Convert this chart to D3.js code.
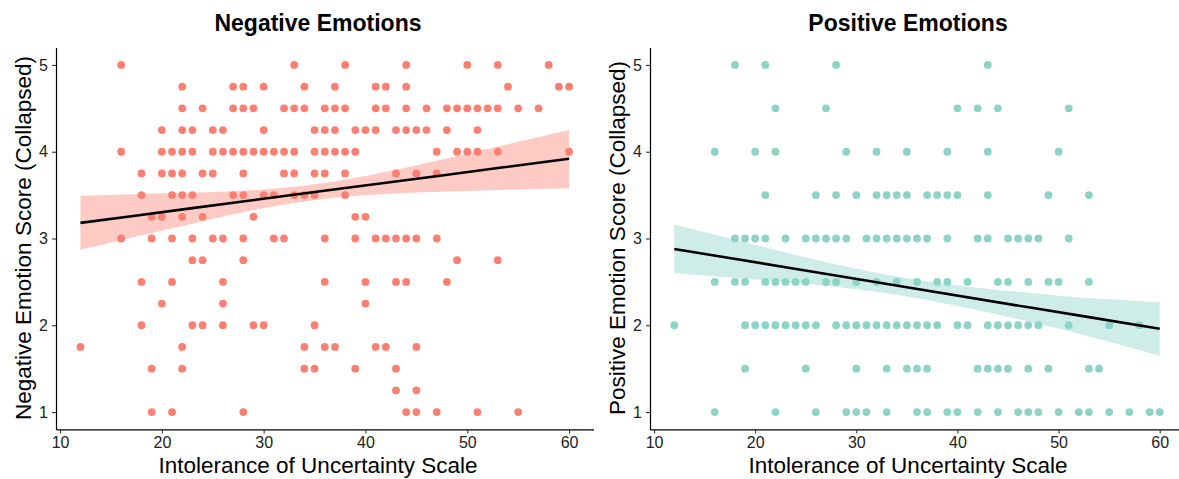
<!DOCTYPE html>
<html>
<head>
<meta charset="utf-8">
<script src="https://cdn.jsdelivr.net/npm/d3@7"></script>
<style>
  html, body { margin: 0; padding: 0; background: #fff; }
  svg { display: block; font-family: "Liberation Sans", Arial, sans-serif; }
</style>
</head>
<body>
<svg id="chart" width="1179" height="479"></svg>
<script>
// ---------------- DATA ----------------
const xTicks = [10, 20, 30, 40, 50, 60];
const yTicks = [1, 2, 3, 4, 5];

// Negative emotions: score levels and the IUS values observed at each level
const negLevels = [5, 4.75, 4.5, 4.25, 4, 3.75, 3.5, 3.25, 3, 2.75, 2.5, 2.25, 2, 1.75, 1.5, 1.25, 1];
const negXByLevel = [
  [16, 33, 38, 44, 50, 53, 58],
  [22, 27, 28, 30, 34, 37, 41, 42, 44, 54, 59, 60],
  [22, 24, 27, 28, 29, 32, 33, 34, 36, 37, 38, 41, 42, 44, 46, 48, 49, 50, 51, 52, 53, 55, 57],
  [20, 22, 23, 25, 26, 30, 35, 36, 37, 39, 40, 41, 43, 44, 45, 46, 48, 51],
  [16, 20, 21, 22, 23, 25, 26, 27, 28, 29, 30, 31, 32, 33, 35, 36, 37, 38, 39, 47, 49, 50, 51, 53, 60],
  [18, 20, 21, 22, 24, 25, 28, 32, 33, 35, 36, 38, 43, 45, 47],
  [18, 21, 22, 23, 27, 28, 30, 31, 33, 34, 35, 38],
  [19, 20, 22, 24, 29, 39, 40],
  [16, 19, 21, 23, 25, 26, 28, 31, 32, 36, 39, 41, 42, 43, 44, 45, 47],
  [23, 24, 28, 49, 53],
  [18, 21, 26, 36, 40, 43, 44, 48],
  [20, 26, 40],
  [18, 23, 24, 26, 29, 30, 35],
  [12, 22, 34, 36, 37, 41, 42, 45],
  [19, 22, 34, 35, 39, 43],
  [43, 45],
  [19, 21, 28, 44, 45, 47, 51, 55]
];

// Positive emotions
const posLevels = [5, 4.5, 4, 3.5, 3, 2.5, 2, 1.5, 1];
const posXByLevel = [
  [18, 21, 28, 43],
  [22, 27, 40, 42, 44, 51],
  [16, 20, 22, 29, 32, 35, 39, 43, 50],
  [21, 26, 28, 30, 32, 33, 34, 35, 37, 38, 39, 40, 43, 49, 53],
  [18, 19, 20, 21, 23, 25, 26, 27, 28, 29, 31, 32, 33, 34, 35, 36, 37, 39, 42, 43, 45, 46, 47, 48, 51],
  [16, 18, 19, 21, 22, 23, 24, 25, 27, 28, 30, 32, 34, 36, 38, 39, 41, 44, 45, 47, 49, 50, 53],
  [12, 19, 20, 21, 22, 23, 24, 25, 26, 28, 29, 30, 31, 32, 33, 34, 35, 36, 37, 38, 40, 41, 43, 44, 45, 46, 47, 48, 51, 55, 58],
  [19, 25, 30, 33, 35, 36, 37, 42, 43, 44, 45, 47, 49, 53, 54],
  [16, 22, 26, 29, 30, 31, 33, 36, 37, 39, 40, 42, 44, 46, 47, 48, 50, 52, 53, 55, 57, 59, 60]
];

// Fitted linear trend (geom_smooth, method = lm) with 95% CI
const bandX = [12, 17, 23, 35, 47.5, 53, 60];
const negFit = [3.18, 3.257, 3.35, 3.535, 3.727, 3.812, 3.92];
const negLower = [2.87, 3.01, 3.17, 3.445, 3.54, 3.56, 3.58];
const negUpper = [3.49, 3.51, 3.53, 3.625, 3.91, 4.06, 4.25];
const posFit = [2.88, 2.784, 2.669, 2.438, 2.198, 2.094, 1.96];
const posLower = [2.60, 2.554, 2.50, 2.333, 2.03, 1.874, 1.65];
const posUpper = [3.16, 3.014, 2.84, 2.543, 2.37, 2.314, 2.265];

// ---------------- DRAW ----------------
const svg = d3.select("#chart");

function panel(opts) {
  const x = d3.scaleLinear().domain([9.6, 62.4]).range([opts.x0, opts.x1]);
  const y = d3.scaleLinear().domain([0.8, 5.2]).range([429.4, 47.6]);
  const g = svg.append("g");

  const pts = [];
  opts.levels.forEach((lv, i) => opts.xs[i].forEach(v => pts.push({ x: v, y: lv })));

  g.append("g").selectAll("circle").data(pts).join("circle")
    .attr("cx", d => x(d.x)).attr("cy", d => y(d.y)).attr("r", 3.9)
    .attr("fill", opts.color);

  const band = bandX.map((v, i) => ({ x: v, lo: opts.lower[i], hi: opts.upper[i] }));
  g.append("path").datum(band)
    .attr("d", d3.area().x(d => x(d.x)).y0(d => y(d.lo)).y1(d => y(d.hi)).curve(d3.curveNatural))
    .attr("fill", opts.color).attr("fill-opacity", 0.42);

  const fit = bandX.map((v, i) => ({ x: v, y: opts.fit[i] }));
  g.append("path").datum(fit)
    .attr("d", d3.line().x(d => x(d.x)).y(d => y(d.y)))
    .attr("fill", "none").attr("stroke", "#000").attr("stroke-width", 2.6);

  // axes
  const xa = g.append("g").attr("transform", "translate(0,429.4)")
    .call(d3.axisBottom(x).tickValues(xTicks).tickFormat(d3.format("d"))
      .tickSize(4).tickSizeOuter(0).tickPadding(3));
  const ya = g.append("g").attr("transform", `translate(${opts.x0},0)`)
    .call(d3.axisLeft(y).tickValues(yTicks).tickFormat(d3.format("d"))
      .tickSize(4).tickSizeOuter(0).tickPadding(4));
  [xa, ya].forEach(a => {
    a.select(".domain").attr("stroke", "#000").attr("stroke-width", 1.2);
    a.selectAll(".tick line").attr("stroke", "#333").attr("stroke-width", 1.1);
    a.selectAll(".tick text").attr("fill", "#222").attr("font-size", 16)
      .attr("font-family", "'Liberation Sans', Arial, sans-serif");
  });

  g.append("text").attr("x", opts.titleX).attr("y", 31)
    .attr("text-anchor", "middle").attr("font-size", 23).attr("font-weight", "bold")
    .attr("fill", "#000").text(opts.title);

  g.append("text").attr("x", opts.titleX).attr("y", 473)
    .attr("text-anchor", "middle").attr("font-size", 22.5).attr("fill", "#000")
    .text("Intolerance of Uncertainty Scale");

  g.append("text")
    .attr("transform", `translate(${opts.ylabX},238) rotate(-90)`)
    .attr("text-anchor", "middle").attr("font-size", 22.5).attr("fill", "#000")
    .text(opts.ylab);
}

panel({
  x0: 56, x1: 593.5, levels: negLevels, xs: negXByLevel, color: "#FB8072",
  lower: negLower, upper: negUpper, fit: negFit,
  title: "Negative Emotions", titleX: 318, ylab: "Negative Emotion Score (Collapsed)", ylabX: 31
});
panel({
  x0: 650, x1: 1184, levels: posLevels, xs: posXByLevel, color: "#8DD3C7",
  lower: posLower, upper: posUpper, fit: posFit,
  title: "Positive Emotions", titleX: 908, ylab: "Positive Emotion Score (Collapsed)", ylabX: 625
});
</script>
</body>
</html>
